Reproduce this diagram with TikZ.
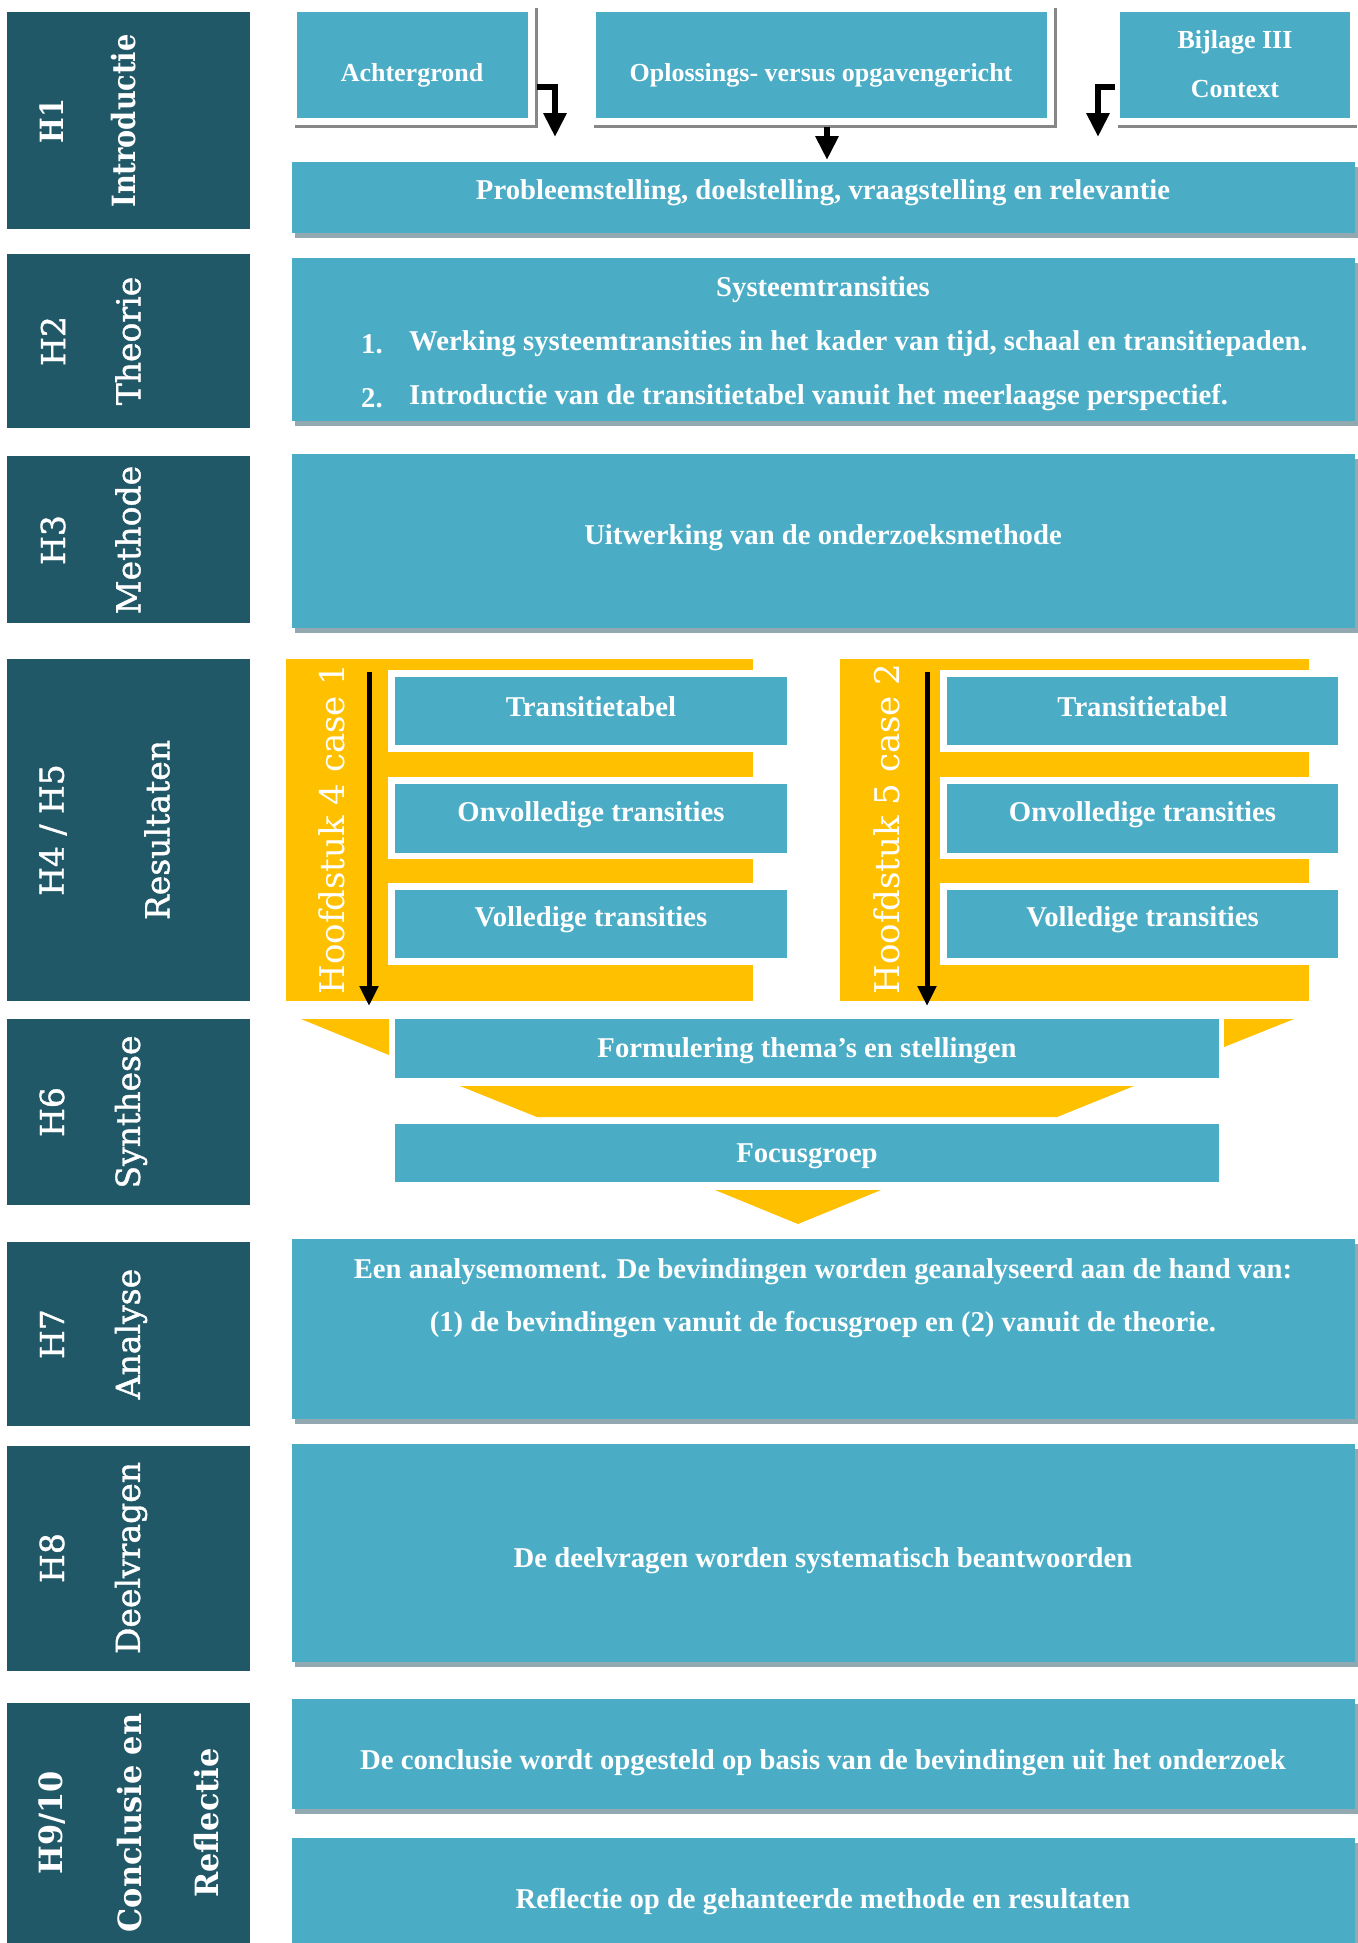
\documentclass[tikz,border=0pt]{standalone}
\usepackage{fontspec}
\setmainfont{Liberation Serif}
\newfontfamily\labfont{DejaVu Serif}
\newfontfamily\labmidfont[FakeBold=1.2]{DejaVu Serif}
\newfontfamily\labboldfont[FakeStretch=0.85]{DejaVu Serif}
\newfontfamily\labwidefont[FakeStretch=0.95]{DejaVu Serif}
\usetikzlibrary{arrows.meta,shadows,calc}
\definecolor{darkteal}{HTML}{215868}
\definecolor{boxblue}{HTML}{4BACC6}
\definecolor{gold}{HTML}{FFC000}
\definecolor{shade}{HTML}{92A9B1}
\definecolor{rim}{HTML}{878787}
\begin{document}
\begin{tikzpicture}[x=1pt,y=-1pt,
  chap/.style={fill=darkteal, anchor=north west, inner sep=0pt, outer sep=0pt},
  box/.style={fill=boxblue, anchor=north west, inner sep=0pt, outer sep=0pt},
  wide/.style={box, minimum width=1063pt,
    drop shadow={shadow xshift=3pt, shadow yshift=-5pt, fill=shade, opacity=1}},
  txt/.style={text=white, inner sep=0pt, font=\fontsize{28.7}{34}\selectfont\bfseries},
  toptxt/.style={text=white, inner sep=0pt, font=\fontsize{26}{32}\selectfont\bfseries},
  lab/.style={text=white, rotate=90, inner sep=0pt, font=\labmidfont\fontsize{33}{40}\selectfont},
  labb/.style={text=white, rotate=90, inner sep=0pt, font=\labboldfont\bfseries\fontsize{32}{40}\selectfont},
  labw/.style={text=white, rotate=90, inner sep=0pt, font=\labwidefont\bfseries\fontsize{32}{40}\selectfont},
  hlab/.style={text=white, rotate=90, inner sep=0pt, font=\labfont\fontsize{34}{40}\selectfont},
  rimline/.style={draw=rim, line width=3pt},
  bigarrow/.style={line width=6pt, line join=miter, -{Triangle[width=22pt,length=24pt]}},
  caseflow/.style={line width=5pt, -{Triangle[width=18pt,length=20pt]}},
  funnel/.style={fill=gold, draw=none},
  gap/.style={fill=white, draw=none}
]
\fill[white] (0,0) rectangle (1357,1943);
\useasboundingbox (0,0) rectangle (1357,1943);

% ---- chapter column ----
\node[chap, minimum width=243pt, minimum height=217pt] (c1) at (7,12) {};
\node[chap, minimum width=243pt, minimum height=174pt] (c2) at (7,254) {};
\node[chap, minimum width=243pt, minimum height=167pt] (c3) at (7,456) {};
\node[chap, minimum width=243pt, minimum height=342pt] (c4) at (7,659) {};
\node[chap, minimum width=243pt, minimum height=186pt] (c6) at (7,1019) {};
\node[chap, minimum width=243pt, minimum height=184pt] (c7) at (7,1242) {};
\node[chap, minimum width=243pt, minimum height=225pt] (c8) at (7,1446) {};
\node[chap, minimum width=243pt, minimum height=245pt] (c9) at (7,1703) {};

\node[labb] (l1a) at (52,121) {H1};
\node[labb] (l1b) at (124,121) {Introductie};
\node[lab] (l2a) at (53,341) {H2};
\node[lab] (l2b) at (128,341) {Theorie};
\node[lab] (l3a) at (53,540) {H3};
\node[lab] (l3b) at (128,540) {Methode};
\node[lab] (l4a) at (53,830) {H4 / H5};
\node[lab] (l4b) at (157,830) {Resultaten};
\node[lab] (l6a) at (52,1112) {H6};
\node[lab] (l6b) at (131,1112) {Synthese};
\node[lab] (l7a) at (52,1334) {H7};
\node[lab] (l7b) at (131,1334) {Analyse};
\node[lab] (l8a) at (52,1558) {H8};
\node[lab] (l8b) at (131,1558) {Deelvragen};
\node[labw] (l9a) at (52,1823) {H9/10};
\node[labw] (l9b) at (130,1823) {Conclusie en};
\node[labw] (l9c) at (207,1823) {Reflectie};

% ---- H1: introduction ----
\node[box, minimum width=231pt, minimum height=106pt] (achter) at (297,12) {};
\node[box, minimum width=451pt, minimum height=106pt] (oplos) at (596,12) {};
\node[box, minimum width=230pt, minimum height=106pt] (bijl) at (1120,12) {};
\draw[rimline] ($(achter.south west)+(-2,8)$) -| ($(achter.north east)+(8,-4)$);
\draw[rimline] ($(oplos.south west)+(-2,8)$) -| ($(oplos.north east)+(8,-4)$);
\draw[rimline] ($(bijl.south west)+(-2,8)$) -- (1357,126);
\node[toptxt] (tachter) at (412,75) {Achtergrond};
\node[toptxt] (toplos) at (821,75) {Oplossings- versus opgavengericht};
\node[toptxt] (tbijl1) at (1235,42) {Bijlage III};
\node[toptxt] (tbijl2) at (1235,89) {Context};

\node[wide, minimum height=71pt] (prob) at (292,162) {};
\node[txt] (tprob) at (823,193) {Probleemstelling, doelstelling, vraagstelling en relevantie};

\coordinate (e1s) at (537,87);
\coordinate (e1e) at (555,137);
\draw[bigarrow] (e1s) -| (e1e);
\coordinate (m1s) at (827,127);
\coordinate (m1e) at (827,160);
\draw[bigarrow] (m1s) -- (m1e);
\coordinate (e2s) at (1115,87);
\coordinate (e2e) at (1098,137);
\draw[bigarrow] (e2s) -| (e2e);

% ---- H2: theory ----
\node[wide, minimum height=163pt] (sys) at (292,258) {};
\node[txt] (tsys) at (823,290) {Systeemtransities};
\node[txt, anchor=west] (n1) at (361,344) {1.};
\node[txt, anchor=west] (s1) at (409,344) {Werking systeemtransities in het kader van tijd, schaal en transitiepaden.};
\node[txt, anchor=west] (n2) at (361,398) {2.};
\node[txt, anchor=west] (s2) at (409,398) {Introductie van de transitietabel vanuit het meerlaagse perspectief.};

% ---- H3: method ----
\node[wide, minimum height=174pt] (meth) at (292,454) {};
\node[txt] (tmeth) at (823,538) {Uitwerking van de onderzoeksmethode};

% ---- H4 / H5: two cases ----
\fill[funnel] (286,659) rectangle (753,1001);
\fill[funnel] (840,659) rectangle (1309,1001);
\foreach \yy in {677,784,890} {
  \fill[gap] (388,\yy-7) rectangle (787,\yy+75);
  \fill[gap] (940,\yy-7) rectangle (1338,\yy+75);
}
\node[box, minimum width=392pt, minimum height=68pt] (a1) at (395,677) {};
\node[box, minimum width=392pt, minimum height=69pt] (a2) at (395,784) {};
\node[box, minimum width=392pt, minimum height=68pt] (a3) at (395,890) {};
\node[box, minimum width=391pt, minimum height=68pt] (b1) at (947,677) {};
\node[box, minimum width=391pt, minimum height=69pt] (b2) at (947,784) {};
\node[box, minimum width=391pt, minimum height=68pt] (b3) at (947,890) {};
\node[txt] at ($(a1.center)+(0,-4)$) {Transitietabel};
\node[txt] at ($(a2.center)+(0,-4)$) {Onvolledige transities};
\node[txt] at ($(a3.center)+(0,-4)$) {Volledige transities};
\node[txt] at ($(b1.center)+(0,-4)$) {Transitietabel};
\node[txt] at ($(b2.center)+(0,-4)$) {Onvolledige transities};
\node[txt] at ($(b3.center)+(0,-4)$) {Volledige transities};

\coordinate (fa) at (369,672);
\coordinate (fb) at (369,1006);
\draw[caseflow] (fa) -- (fb);
\coordinate (ga) at (927,672);
\coordinate (gb) at (927,1006);
\draw[caseflow] (ga) -- (gb);
\node[hlab] (hc1) at (332,829) {Hoofdstuk 4 case 1};
\node[hlab] (hc2) at (887,829) {Hoofdstuk 5 case 2};

% ---- H6: synthesis ----
\fill[funnel] (301,1019) -- (389,1019) -- (389,1055) -- cycle;
\fill[funnel] (1224,1019) -- (1294,1019) -- (1224,1047) -- cycle;
\node[box, minimum width=824pt, minimum height=59pt] (form) at (395,1019) {};
\node[txt] at ($(form.center)+(0,2)$) {Formulering thema’s en stellingen};
\fill[funnel] (460,1086) -- (1134,1086) -- (1057,1117) -- (537,1117) -- cycle;
\node[box, minimum width=824pt, minimum height=58pt] (focus) at (395,1124) {};
\node[txt] at ($(focus.center)+(0,3)$) {Focusgroep};
\fill[funnel] (715,1190) -- (881,1190) -- (798,1224) -- cycle;

% ---- H7 to H10 ----
\node[wide, minimum height=180pt] (anal) at (292,1239) {};
\node[txt] (tan1) at (823,1272) {Een analysemoment. De bevindingen worden geanalyseerd aan de hand van:};
\node[txt] (tan2) at (823,1325) {(1) de bevindingen vanuit de focusgroep en (2) vanuit de theorie.};

\node[wide, minimum height=218pt] (deel) at (292,1444) {};
\node[txt] (tdeel) at (823,1561) {De deelvragen worden systematisch beantwoorden};

\node[wide, minimum height=110pt] (concl) at (292,1699) {};
\node[txt] (tconcl) at (823,1763) {De conclusie wordt opgesteld op basis van de bevindingen uit het onderzoek};

\node[wide, minimum height=110pt] (refl) at (292,1838) {};
\node[txt] (trefl) at (823,1902) {Reflectie op de gehanteerde methode en resultaten};
\end{tikzpicture}
\end{document}
